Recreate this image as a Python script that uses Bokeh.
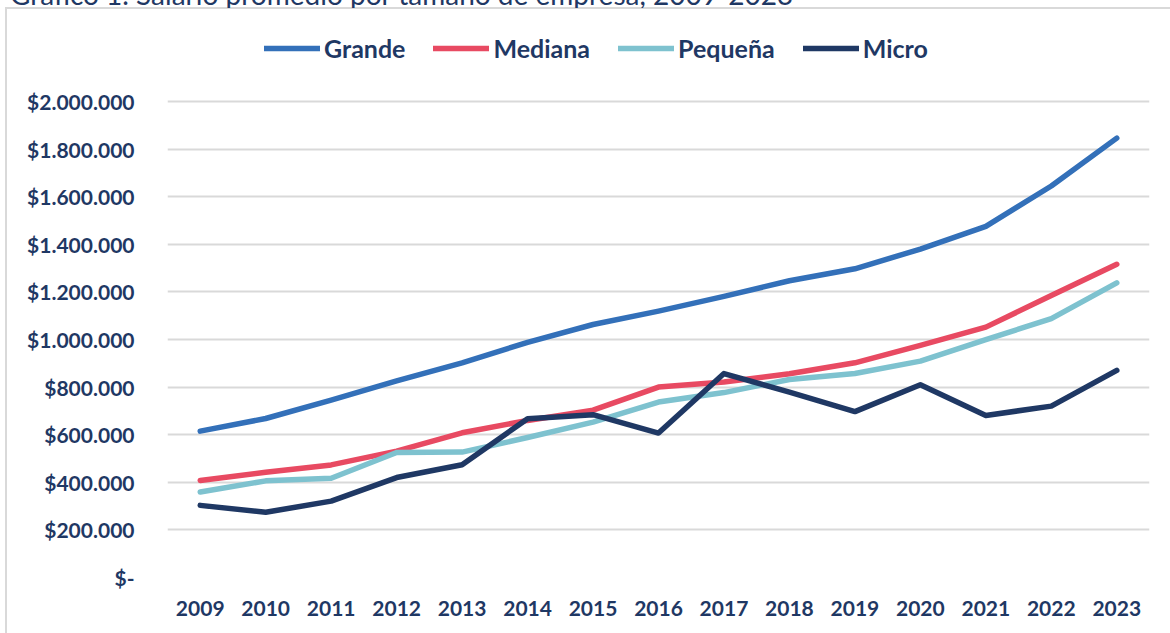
from bokeh.plotting import figure
from bokeh.models import FactorRange, Range1d, FixedTicker, Legend, LegendItem, Div
from bokeh.layouts import column
from bokeh.embed import file_html
from bokeh.resources import INLINE

title_text = "Gráfico 1. Salario promedio por tamaño de empresa, 2009-2023"
years = [str(y) for y in range(2009, 2024)]
grande = [615000, 668000, 745000, 826000, 902000, 988000, 1063000, 1119000,
          1181000, 1247000, 1297000, 1380000, 1475000, 1645000, 1846000]
mediana = [408000, 442000, 473000, 531000, 608000, 660000, 703000, 800000,
           821000, 856000, 902000, 975000, 1052000, 1185000, 1316000]
pequena = [359000, 406000, 417000, 525000, 527000, 588000, 653000, 737000,
           777000, 832000, 857000, 909000, 999000, 1088000, 1238000]
micro = [303000, 274000, 321000, 420000, 474000, 667000, 684000, 607000,
         857000, 779000, 697000, 810000, 681000, 720000, 870000]

series_names = ["Grande", "Mediana", "Pequeña", "Micro"]
series_values = [grande, mediana, pequena, micro]
series_colors = ["#3370B9", "#E84A62", "#7EC2CF", "#1F3864"]

y_ticks = [0, 200000, 400000, 600000, 800000, 1000000, 1200000, 1400000,
           1600000, 1800000, 2000000]
y_tick_labels = ["$-", "$200.000", "$400.000", "$600.000", "$800.000",
                 "$1.000.000", "$1.200.000", "$1.400.000", "$1.600.000",
                 "$1.800.000", "$2.000.000"]

TEXT = "#1F3864"
FONT = "Lato"

# layout (pixels within the figure)
FIG_W, FIG_H = 1170, 633
FRAME_TOP, FRAME_BOTTOM = 10, 577      # frame edges
AXIS_TOP = 101                          # where the 2.000.000 gridline sits
y_max = y_ticks[-1]
y_end = y_max * (FRAME_BOTTOM - FRAME_TOP) / (FRAME_BOTTOM - AXIS_TOP)

head = Div(text=('<div style="position:relative;top:-23px;left:10px;white-space:nowrap;'
                 'font-family:Lato;font-size:28px;color:#1F3864;line-height:34px">'
                 + title_text + '</div>'),
           width=FIG_W, height=8,
           styles={"position": "absolute", "top": "0px", "left": "0px",
                   "overflow": "hidden", "padding": "0px", "margin": "0px",
                   "z-index": "2"})

p = figure(width=FIG_W, height=FIG_H, x_range=FactorRange(*years, range_padding=0),
           y_range=Range1d(0, y_end), output_backend="svg", toolbar_location=None,
           min_border_left=167, min_border_right=21, min_border_top=FRAME_TOP,
           min_border_bottom=FIG_H - FRAME_BOTTOM)
p.border_fill_color = None
p.background_fill_color = None
p.outline_line_color = None
p.styles = {
    "background-image": "linear-gradient(#D9D9D9,#D9D9D9), linear-gradient(#D9D9D9,#D9D9D9)",
    "background-size": "2px 100%, 100% 2px",
    "background-position": "5px 7px, 5px 7px",
    "background-repeat": "no-repeat",
}

items = []
for name, vals, col in zip(series_names, series_values, series_colors):
    r = p.line(years, vals, line_color=col, line_width=5.5,
               line_cap="round", line_join="round")
    items.append(LegendItem(label=name, renderers=[r]))

p.xgrid.grid_line_color = None
p.ygrid.grid_line_color = "#D9D9D9"
p.ygrid.grid_line_width = 2

p.yaxis.ticker = FixedTicker(ticks=y_ticks)
p.yaxis.major_label_overrides = {t: l for t, l in zip(y_ticks, y_tick_labels)}
for ax in (p.xaxis[0], p.yaxis[0]):
    ax.axis_line_color = None
    ax.major_tick_line_color = None
    ax.minor_tick_line_color = None
    ax.major_label_text_font = FONT
    ax.major_label_text_font_style = "bold"
    ax.major_label_text_font_size = "21px"
    ax.major_label_text_color = TEXT
p.yaxis.major_label_standoff = 27
p.xaxis.major_label_standoff = 17

legend = Legend(items=items, orientation="horizontal", location=(97, 514),
                glyph_width=56, glyph_height=20, label_standoff=4, spacing=28,
                padding=0, margin=0, border_line_color=None,
                background_fill_alpha=0,
                label_text_font=FONT, label_text_font_style="bold",
                label_text_font_size="25px", label_text_color=TEXT)
p.add_layout(legend, "center")

layout = column(head, p, spacing=0)
open("out.html", "w").write(file_html(layout, INLINE))
